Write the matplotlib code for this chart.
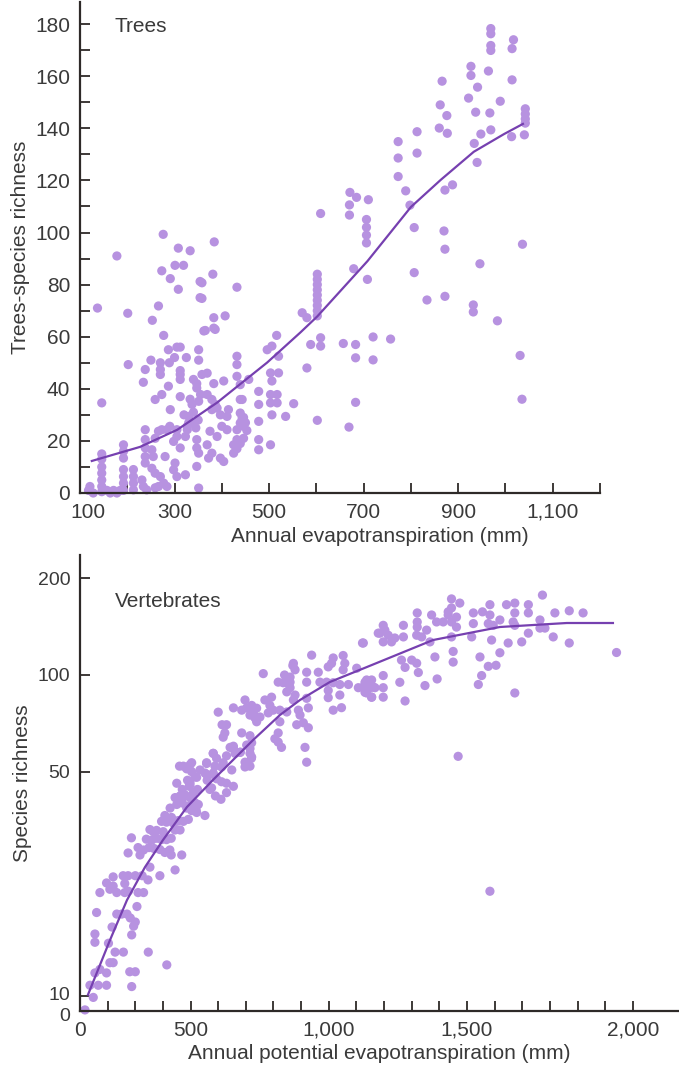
import matplotlib
matplotlib.use('Agg')
import matplotlib.pyplot as plt
from matplotlib.ticker import MultipleLocator, FixedLocator, NullLocator
from matplotlib.transforms import ScaledTranslation

plt.rcParams['font.family'] = ['Liberation Sans', 'DejaVu Sans']

# cores
cor_ponto = '#b792e0'
cor_linha = '#7640b0'
cor_texto = '#3a3a3a'
cor_eixo = '#2e2a28'

"""
Painel 1: arvores (evapotranspiracao anual x riqueza de especies)
"""
trees_x = [146, 146, 146, 146, 146, 146, 146, 118, 121, 128, 157, 171, 185, 164, 178,
           192, 192, 192, 192, 192, 192, 192, 213, 213, 213, 213, 231, 234, 241,
           238, 238, 238, 238, 238, 252, 255, 252, 259, 270, 277, 284, 266, 259,
           280, 301, 298, 305, 323, 347, 351, 259, 266, 273, 284, 290,
           305, 305, 298, 312, 330, 337, 327, 327, 323, 347, 347, 351,
           375, 390, 369, 372, 379, 397, 404, 411, 400, 446, 432, 432, 425, 425,
           443, 443, 390, 397, 411, 414, 369, 379, 386, 379, 333, 337, 351,
           291, 312, 259, 273, 287, 340, 358, 369, 347, 347, 355,
           383, 404, 432, 439, 457, 432, 432, 238, 234, 312, 312, 312,
           270, 270, 270, 289, 250, 202, 325, 300, 351, 351, 287, 305, 312, 277,
           365, 383, 146, 178, 137, 201, 253, 266, 273, 291, 308,
           308, 333, 301, 319, 354, 354, 381, 383, 386, 362, 407, 432,
           384, 276, 358, 358,
           446, 450, 453, 446, 439, 432, 320, 340, 350, 330, 345,
           602, 602, 602, 602, 602, 602, 602, 602, 602, 570, 580,
           588, 609, 609, 580, 602, 516, 506, 496, 520, 520, 503, 506,
           478, 478, 478, 478, 478, 503, 517, 503, 517, 506, 535, 552, 503,
           439, 439, 439, 657, 683, 683, 720, 757, 720, 683, 669,
           679, 708, 706, 706, 706, 706, 1031, 1035,
           946, 807, 834, 872, 932, 932, 983,
           969, 969, 969, 969, 1017, 1014, 927, 927, 964, 1014, 866, 941,
           922, 989, 862, 876, 937, 967, 860, 877, 813, 813, 773, 773, 773,
           948, 969, 934, 1013, 1040, 1042, 1042, 1042, 1042,
           940, 789, 798, 872, 888, 671, 685, 710, 670, 670,
           609, 807, 870, 872, 1036]
trees_y = [15, 13, 10, 7.6, 5, 2.5, 0.5, 1, 2.5, 0, 1, 1, 1, 0, 0,
           18.5, 16, 13.4, 9, 6.3, 3.8, 1, 9, 6.3, 3.8, 1.2, 5, 2.5, 1.2,
           24.3, 20.5, 17.3, 14, 11.5, 16.6, 14, 9.5, 7.6, 6.3, 3.8, 2.5, 2.5, 2,
           14, 11.5, 8.9, 6.3, 7, 10.2, 1.9, 21, 23.7, 24.3, 24.3, 25.6,
           24.3, 21.7, 19.8, 17.3, 29.4, 26.9, 25.6, 24.3, 21.7, 20.5, 17.3, 15.3,
           23.7, 21.7, 18.5, 13.4, 15.3, 13.4, 12.1, 24.3, 25.6, 25.6, 24.3, 20.5, 18.5, 15.3,
           28.8, 35.9, 32.6, 30, 29.4, 32, 37.8, 35.9, 34, 32, 36, 34, 35.2,
           32, 37, 35.9, 37.8, 41, 43.6, 45.5, 46, 42, 40.3, 37.8,
           42, 43, 44.8, 41.6, 43.6, 52.5, 49.3, 47.4, 42.5, 47, 45.5, 43.6,
           50, 47.4, 45.5, 50, 51, 49.3, 52, 52, 55, 51, 55, 56, 56, 60.5,
           62.4, 63.3, 34.6, 91, 71, 69, 66.3, 71.8, 85.3, 82.3, 78.2,
           94, 93, 87.4, 87.4, 81.2, 75, 84, 67.3, 62.8, 62.2, 68, 79,
           96.4, 99.3, 80.7, 74.7,
           29, 27, 24, 21, 19, 17, 30, 31, 28, 27, 25,
           84, 82, 80, 78, 76, 74, 72, 70, 68, 69.2, 67.3,
           57, 59.6, 56.4, 48, 27.9, 60.5, 56.4, 55, 52.5, 46.1, 46.1, 43,
           39, 34, 27.5, 20.5, 16.6, 37.8, 37.8, 34.6, 34.6, 30, 29.4, 34.3, 18.5,
           35.9, 30.7, 26.9, 57.4, 57, 51.9, 59.9, 59.1, 51.1, 34.8, 25.3,
           86.1, 82, 105, 102, 99, 96, 52.8, 36,
           88, 84.6, 74.1, 75.5, 72.2, 69.5, 66.1,
           178.3, 176.3, 171.8, 169.9, 174, 170.6, 163.8, 160.3, 162, 158.6, 158.1, 155.8,
           151.6, 150.4, 149, 144.9, 146.2, 145.9, 140.1, 138.1, 138.7, 130.5, 134.9, 128.6, 121.5,
           137.8, 139.4, 134.2, 136.8, 137.5, 147.5, 145.5, 143.6, 142,
           126.9, 116, 110.5, 116.3, 118.3, 115.4, 113.5, 112.6, 110.6, 106.7,
           107.3, 101.9, 100.6, 93.6, 95.5]

trees_fit_x = [125, 227, 306, 390, 496, 566, 602, 708, 800, 863, 933, 997, 1037]
trees_fit_y = [12.3, 17.7, 24.3, 34.7, 50.1, 61.6, 67.8, 89, 109.8, 120.2, 131, 137.8, 141.7]

trees_xticks = [100, 300, 500, 700, 900, 1100]
trees_xticklabels = ['100', '300', '500', '700', '900', '1,100']
trees_yticks = [0, 20, 40, 60, 80, 100, 120, 140, 160, 180]

"""
Painel 2: vertebrados (evapotranspiracao potencial x riqueza, escala log)
"""
vert_x = [118, 148, 136, 154, 172, 196, 196, 166, 208, 220, 203, 227, 257, 287, 347, 414,
          280, 300, 287, 154, 154, 160, 216, 233, 251, 270, 282, 300, 294, 306,
          262, 275, 310, 330, 172, 196, 208, 220, 220, 233, 256, 274, 300, 325, 262,
          353, 389, 346, 444, 274, 286, 310, 330, 350, 368, 389,
          340, 360, 378, 395, 413, 430, 407, 425, 430, 468, 317,
          365, 377, 401, 444, 462, 353, 407, 431, 450, 395, 413, 437, 456, 474, 492,
          426, 450, 468, 486, 504, 522, 444, 462, 480, 498, 552, 516, 528,
          450, 498, 522, 558, 582, 594, 612, 630, 576, 460, 498, 486,
          558, 582, 588, 560, 570, 590, 610, 630, 655, 630, 655, 680, 703, 715, 720, 697, 715,
          1179, 1122, 938, 1016, 1052, 1058, 1052, 1010, 998, 872, 878, 860, 860, 848,
          920, 962, 920, 968, 992, 1016, 763, 817, 835, 860, 848, 878, 872,
          1101, 1137, 1155, 1137, 1155, 1125, 1161, 1040, 1046, 1016, 998, 998,
          920, 926, 890, 896, 908, 926, 884, 914, 920, 823, 817, 805, 829, 817,
          793, 769, 787, 739, 721, 727, 703, 685, 655, 781, 751, 733, 715, 739,
          799, 823, 848, 697, 600, 630, 618, 685, 715, 721, 715, 703, 721, 697,
          655, 643, 661, 679, 582, 594, 558, 534, 504, 618, 612, 582, 552, 516, 498, 649,
          470, 480, 495, 510, 525, 470, 490, 505, 520,
          1773, 1444, 1474, 1444, 1432, 1432, 1462, 1320, 1372, 1320, 1320,
          1523, 1556, 1583, 1583, 1643, 1673, 1722, 1722, 1673, 1619, 1818, 1870, 1920,
          1390, 1414, 1444, 1462, 1523, 1577, 1595, 1667, 1673, 1764, 1764, 1782,
          1197, 1203, 1185, 1215, 1239, 1270, 1270, 1318, 1336, 1354, 1366, 1125, 1197, 1227,
          1444, 1517, 1589, 1649, 1698, 1722, 1812, 1870, 2041, 1450, 1450,
          1384, 1263, 1276, 1300, 1318, 1324, 1547, 1619, 1577, 1605, 1553, 1541,
          1257, 1276, 1348, 1392, 1673, 1468, 1071, 1040, 1583,
          1107, 1131, 1149, 1131, 1155, 1197, 1197, 1197, 1167,
          614, 624, 474, 504, 489, 870, 840]
vert_y = [9.05, 9.9, 10.8, 11.8, 12.1, 11.8, 10.8, 10.8, 12.7, 12.7, 14.6, 13.7, 13.7, 15.5, 13.7, 12.5,
          11.9, 11.9, 10.7, 15.6, 14.7, 18.2, 16.4, 18, 18, 18, 17.5, 17, 16.5, 19,
          21, 21.2, 21, 21, 21, 22.5, 21.5, 23.5, 22, 21, 23.7, 23.7, 23.7, 23.7, 22.4,
          25.2, 23.7, 23, 24.7, 27.9, 31.1, 29, 28.5, 29, 28.8, 28.6,
          30.8, 30.6, 31, 30.7, 30.7, 31, 28, 28.5, 27.5, 27.5, 27.5,
          32.5, 32.8, 32.5, 32.9, 32.9, 33, 36.5, 36, 35, 35, 34.8, 34.6, 35.2, 35, 35.5,
          38.5, 39.5, 40, 38.5, 37.8, 37.3, 41.5, 42, 42.3, 41.5, 36.5, 40, 39.5,
          46, 45.5, 48, 49, 49, 47.5, 46.5, 46, 44.5, 52, 52.5, 51,
          53, 57, 52, 47, 44, 42, 41, 43, 45, 56, 59, 57.5, 60.5, 59, 55, 53.5, 52,
          135, 125.8, 115.3, 113, 115, 108.7, 103.8, 108.7, 106, 108.7, 103.8, 98.5, 95, 94.6,
          102, 102, 95, 95, 95, 94.6, 101, 95, 94.6, 91.3, 88.6, 86.6, 83.6,
          105, 96.5, 96.5, 87.9, 85.3, 91.7, 91.7, 86.6, 79.1, 77.7, 89.5, 85,
          84.6, 79, 77.7, 75, 71, 68.5, 70, 59.5, 53.5, 71.5, 66, 63.3, 59.5, 61.8,
          85.3, 83.6, 80.4, 78.8, 80.4, 76.2, 79, 77.7, 79, 76.2, 74, 73.5, 75, 71.5,
          77.7, 77.7, 76.7, 83.6, 76.6, 70, 64, 66, 64.7, 61.5, 57, 53.3, 55.5, 51.7,
          60, 59.5, 57, 57.4, 57, 55, 53.3, 50.6, 53.3, 53.3, 51.7, 49.5, 49.5, 48.2, 46.3, 50.6,
          44, 42, 45, 43, 44, 40, 39, 41, 38,
          177.4, 172.6, 167.5, 161.8, 157.3, 153.8, 151.5, 156.1, 153.8, 146.3, 141,
          156.1, 157.3, 165.6, 153.8, 165.6, 167.5, 165.6, 156.1, 156.1, 148.4, 156.1, 158.5, 156.1,
          146.3, 146.3, 146.3, 141, 144.6, 144.6, 142.8, 146.3, 142.8, 148.4, 140, 140,
          142.8, 138, 135, 133, 130.4, 142.8, 131.4, 133, 131.4, 138, 126.8, 125.8, 126.8, 126.8,
          131.4, 131.4, 128.5, 125.8, 126.8, 135, 131.4, 125.8, 117.5, 118.4, 109.7,
          113.8, 111.3, 105.6, 111.3, 108.8, 101.8, 113.8, 117.3, 106.4, 107.2, 99.6, 93.4,
          94.9, 83, 92.7, 97.2, 87.9, 55.8, 93.4, 93.4, 21.2,
          91.3, 94.9, 91.3, 88.3, 85.3, 99.6, 91.3, 85.3, 91.3,
          70, 66, 52, 50, 47, 107, 100]

vert_fit_x = [129, 208, 270, 335, 400, 487, 581, 726, 823, 896, 1004, 1138, 1377, 1619, 1861, 2028]
vert_fit_y = [10.1, 14.9, 19.9, 25.2, 30.6, 38.8, 47.1, 62.7, 75, 83.6, 95.1, 105.9, 128.5, 141.1, 145.2, 145.2]

vert_xticks = [100, 500, 1000, 1500, 2100]
vert_xticklabels = ['0', '500', '1,000', '1,500', '2,000']
vert_yticks = [8.98, 10, 50, 100, 200]
vert_yticklabels = ['0', '10', '50', '100', '200']

TAM = 15


def estilo_eixo(ax):
    for lado in ['top', 'right']:
        ax.spines[lado].set_visible(False)
    for lado in ['left', 'bottom']:
        ax.spines[lado].set_color(cor_eixo)
        ax.spines[lado].set_linewidth(1.6)
    ax.tick_params(which='both', direction='in', length=7, width=1.3,
                   colors=cor_eixo, labelcolor=cor_texto, labelsize=TAM, pad=7)


def desloca(rotulo, dx, dy):
    # desloca um rotulo de tick em pixels (dpi 100)
    rotulo.set_transform(rotulo.get_transform() + ScaledTranslation(dx / 100, dy / 100, fig.dpi_scale_trans))


fig = plt.figure(figsize=(6.79, 10.68), dpi=100)

# painel de cima
ax1 = fig.add_axes([0.11782, 0.53839, 0.76583, 0.45974])
ax1.scatter(trees_x, trees_y, s=44, color=cor_ponto, edgecolors='none', zorder=2, clip_on=False)
ax1.plot(trees_fit_x, trees_fit_y, color=cor_linha, lw=1.6, zorder=3)
ax1.set_xlim(100, 1200)
ax1.set_ylim(0, 188.5)
estilo_eixo(ax1)
ax1.xaxis.set_major_locator(FixedLocator(trees_xticks))
ax1.set_xticklabels(trees_xticklabels)
ax1.xaxis.set_minor_locator(MultipleLocator(100))
ax1.yaxis.set_major_locator(FixedLocator(trees_yticks))
ax1.yaxis.set_minor_locator(MultipleLocator(10))
ax1.set_xlabel('Annual evapotranspiration (mm)', fontsize=TAM, color=cor_texto, labelpad=4, x=0.577)
ax1.set_ylabel('Trees-species richness', fontsize=TAM, color=cor_texto, labelpad=4)
ax1.text(0.067, 0.951, 'Trees', transform=ax1.transAxes, fontsize=TAM,
         color=cor_texto, ha='left', va='center')
# o rotulo "100" fica um pouco deslocado para a direita no original
desloca(ax1.get_xticklabels()[0], 8, 0)

# painel de baixo
ax2 = fig.add_axes([0.11782, 0.05337, 0.88218, 0.42697])
ax2.set_yscale('log')
ax2.scatter(vert_x, vert_y, s=44, color=cor_ponto, edgecolors='none', zorder=2, clip_on=False)
ax2.plot(vert_fit_x, vert_fit_y, color=cor_linha, lw=1.6, zorder=3)
ax2.set_xlim(100, 2267)
ax2.set_ylim(8.98, 236.5)
estilo_eixo(ax2)
ax2.xaxis.set_major_locator(FixedLocator(vert_xticks))
ax2.set_xticklabels(vert_xticklabels)
ax2.xaxis.set_minor_locator(FixedLocator(list(range(200, 2101, 100))))
ax2.yaxis.set_major_locator(FixedLocator(vert_yticks))
ax2.set_yticklabels(vert_yticklabels, fontsize=14)
ax2.yaxis.set_minor_locator(NullLocator())
ax2.set_xlabel('Annual potential evapotranspiration (mm)', fontsize=TAM, color=cor_texto, labelpad=3)
ax2.set_ylabel('Species richness', fontsize=TAM, color=cor_texto, labelpad=4)
ax2.text(0.058, 0.897, 'Vertebrates', transform=ax2.transAxes, fontsize=TAM,
         color=cor_texto, ha='left', va='center')
# "10" e "0" ficam muito proximos: separa um pouco, como no original
rotulos_y = ax2.get_yticklabels()
desloca(rotulos_y[0], 0, -3)
desloca(rotulos_y[1], 0, 3)

fig.savefig('out.png', dpi=100)
